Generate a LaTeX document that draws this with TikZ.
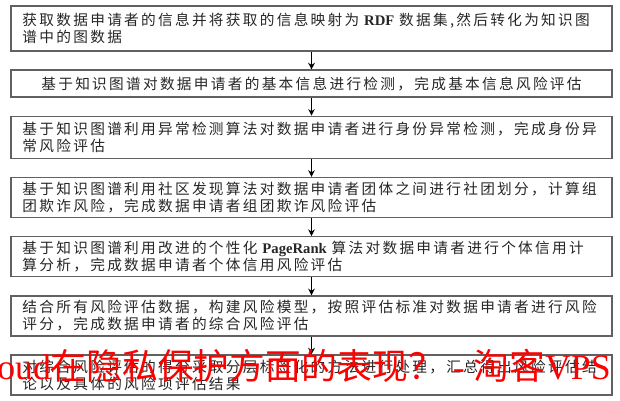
\documentclass[tikz,border=0pt]{standalone}
\usepackage{fontspec}
\setmainfont{Liberation Serif}
\newfontfamily\cjk{Noto Sans CJK SC}[LetterSpace=15.6]
\newfontfamily\wmcjk{Noto Sans CJK SC}
\usetikzlibrary{matrix,arrows.meta}
\newcommand\wordbf[1]{{\rmfamily\bfseries #1}}
\tikzstyle{stepbox} = [draw=black!62, line width=1pt, text=black!85, text width=433.5pt, inner xsep=8.6pt, inner ysep=0pt, align=left, font=\cjk\fontsize{11pt}{12.75pt}\selectfont]
\tikzstyle{watermark} = [anchor=base west, inner sep=0pt, text=red, font=\fontsize{26.8pt}{27pt}\selectfont]

\begin{document}
\begin{tikzpicture}[>={Stealth[length=5pt,width=5pt]}, x=0.75pt, y=0.75pt]
	\useasboundingbox (0,0) rectangle (620,-400);
		\matrix (flow) [%
		matrix of nodes,
		nodes=stepbox,
		inner sep=0pt,
		row sep=13.4pt,
		anchor=north,
		] at (311.5,-5)
		{
		|[minimum height=33.75pt]| {获取数据申请者的信息并将获取的信息映射为 \wordbf{RDF} 数据集,然后转化为知识图\\谱中的图数据} \\
		|[minimum height=20.25pt, align=center]| 基于知识图谱对数据申请者的基本信息进行检测，完成基本信息风险评估 \\
		|[minimum height=31.5pt]| {基于知识图谱利用异常检测算法对数据申请者进行身份异常检测，完成身份异\\常风险评估} \\
		|[minimum height=30pt]| {基于知识图谱利用社区发现算法对数据申请者团体之间进行社团划分，计算组\\团欺诈风险，完成数据申请者组团欺诈风险评估} \\
		|[minimum height=30pt]| {基于知识图谱利用改进的个性化 \wordbf{PageRank} 算法对数据申请者进行个体信用计\\算分析，完成数据申请者个体信用风险评估} \\
		|[minimum height=30pt]| {结合所有风险评估数据，构建风险模型，按照评估标准对数据申请者进行风险\\评分，完成数据申请者的综合风险评估} \\
		|[minimum height=30pt]| {对综合风险评估的得分采取分层标签化的方法进行处理，汇总得出风险评估结\\论以及具体的风险项评估结果} \\
		};
		\draw[->, line width=0.9pt] (flow-1-1) -- (flow-2-1);
		\draw[->, line width=0.9pt] (flow-2-1) -- (flow-3-1);
		\draw[->, line width=0.9pt] (flow-3-1) -- (flow-4-1);
		\draw[->, line width=0.9pt] (flow-4-1) -- (flow-5-1);
		\draw[->, line width=0.9pt] (flow-5-1) -- (flow-6-1);
		\draw[->, line width=0.9pt] (flow-6-1) -- (flow-7-1);
		% watermark over the last box
		\node[watermark] (wm) at (-3,-379) {oud{\wmcjk 在隐私保护方面的表现？} - {\wmcjk 淘客}VPS};
	\end{tikzpicture}
\end{document}
